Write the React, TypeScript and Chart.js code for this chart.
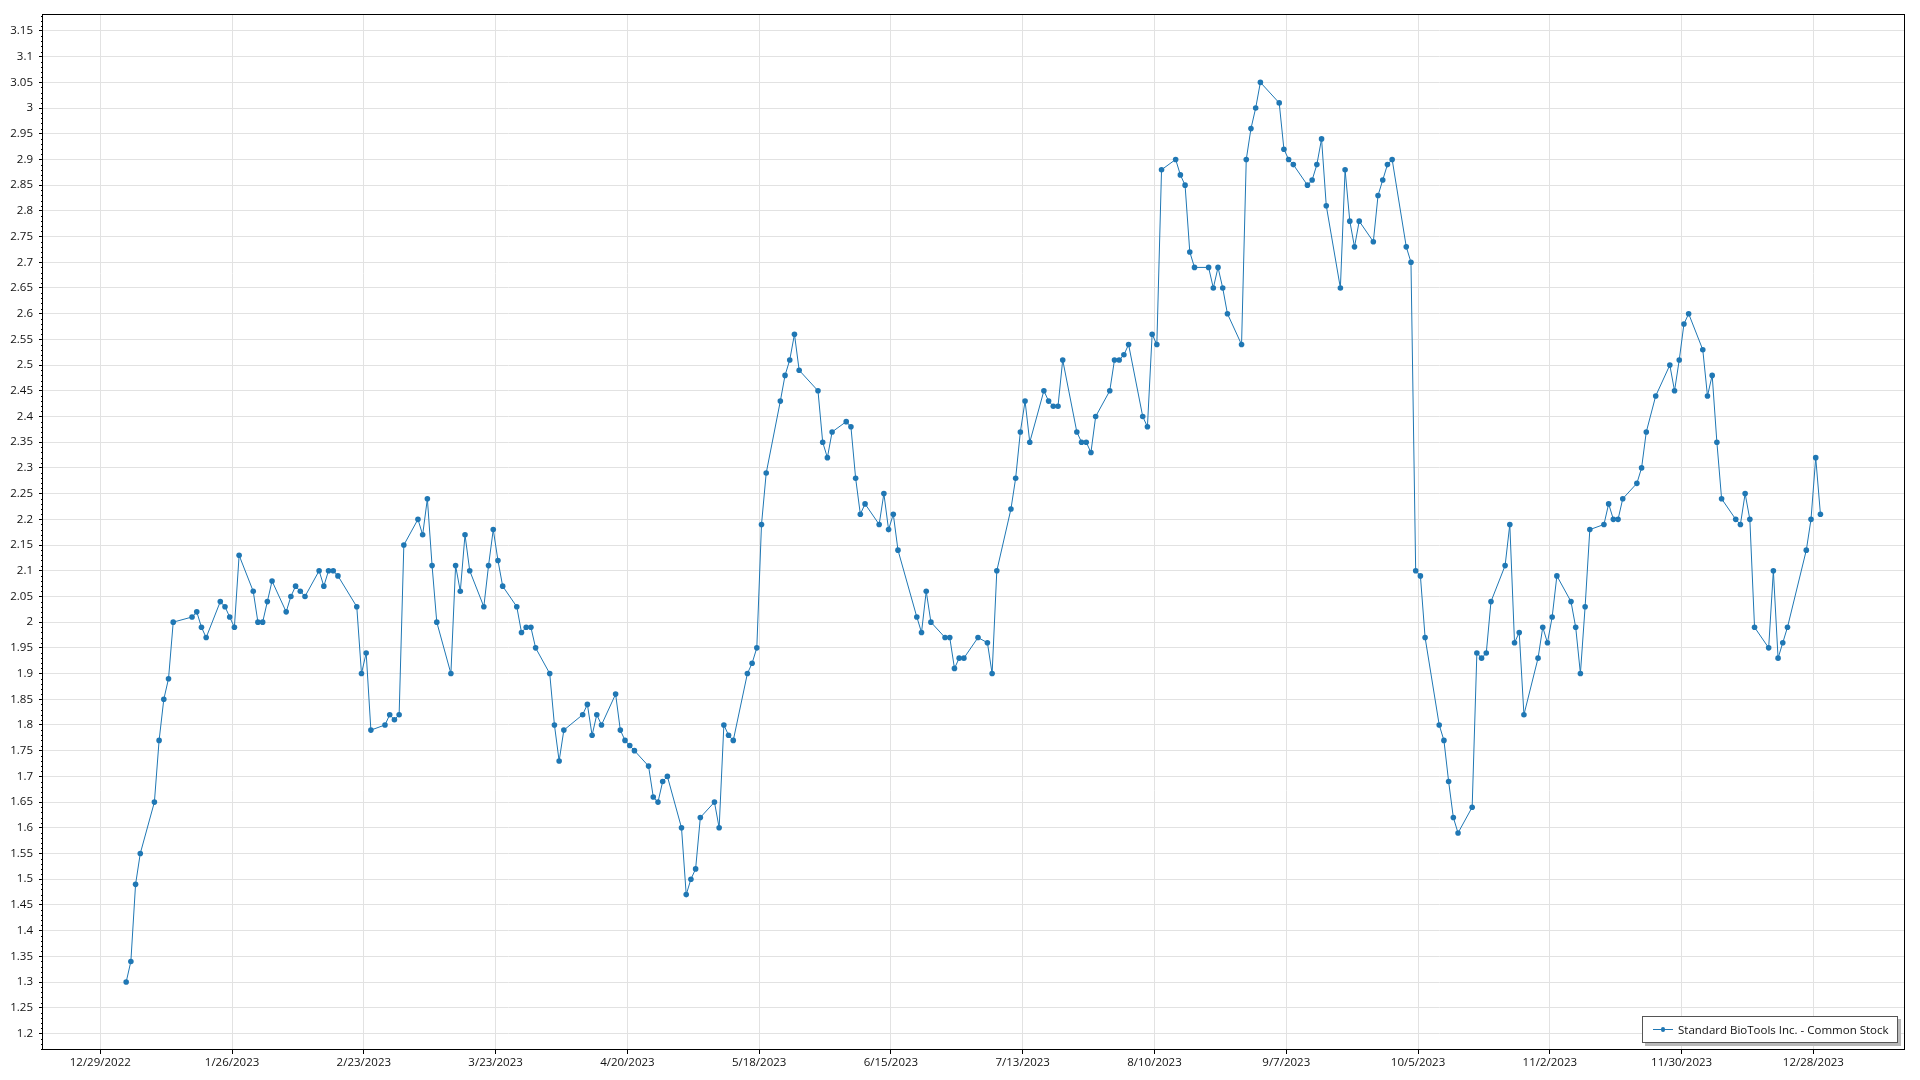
import React, { useEffect, useRef } from 'react';
import { Chart, registerables } from 'chart.js';

Chart.register(...registerables);

// ---------------- data ----------------
const seriesLabel = 'Standard BioTools Inc. - Common Stock';

const xTickLabels = [
  '12/29/2022', '1/26/2023', '2/23/2023', '3/23/2023', '4/20/2023', '5/18/2023', '6/15/2023',
  '7/13/2023', '8/10/2023', '9/7/2023', '10/5/2023', '11/2/2023', '11/30/2023', '12/28/2023',
];

const yTickValues = [
  1.2, 1.25, 1.3, 1.35, 1.4, 1.45, 1.5, 1.55, 1.6, 1.65, 1.7, 1.75, 1.8, 1.85, 1.9, 1.95,
  2.0, 2.05, 2.1, 2.15, 2.2, 2.25, 2.3, 2.35, 2.4, 2.45, 2.5, 2.55, 2.6, 2.65, 2.7, 2.75,
  2.8, 2.85, 2.9, 2.95, 3.0, 3.05, 3.1, 3.15,
];

// [day of month, close] for each month of 2023
const janCloses: [number, number][] = [[3,1.30],[4,1.34],[5,1.49],[6,1.55],[9,1.65],[10,1.77],[11,1.85],[12,1.89],[13,2.00],[17,2.01],[18,2.02],[19,1.99],[20,1.97],[23,2.04],[24,2.03],[25,2.01],[26,1.99],[27,2.13],[30,2.06],[31,2.00]];
const febCloses: [number, number][] = [[1,2.00],[2,2.04],[3,2.08],[6,2.02],[7,2.05],[8,2.07],[9,2.06],[10,2.05],[13,2.10],[14,2.07],[15,2.10],[16,2.10],[17,2.09],[21,2.03],[22,1.90],[23,1.94],[24,1.79],[27,1.80],[28,1.82]];
const marCloses: [number, number][] = [[1,1.81],[2,1.82],[3,2.15],[6,2.20],[7,2.17],[8,2.24],[9,2.11],[10,2.00],[13,1.90],[14,2.11],[15,2.06],[16,2.17],[17,2.10],[20,2.03],[21,2.11],[22,2.18],[23,2.12],[24,2.07],[27,2.03],[28,1.98],[29,1.99],[30,1.99],[31,1.95]];
const aprCloses: [number, number][] = [[3,1.90],[4,1.80],[5,1.73],[6,1.79],[10,1.82],[11,1.84],[12,1.78],[13,1.82],[14,1.80],[17,1.86],[18,1.79],[19,1.77],[20,1.76],[21,1.75],[24,1.72],[25,1.66],[26,1.65],[27,1.69],[28,1.70]];
const mayCloses: [number, number][] = [[1,1.60],[2,1.47],[3,1.50],[4,1.52],[5,1.62],[8,1.65],[9,1.60],[10,1.80],[11,1.78],[12,1.77],[15,1.90],[16,1.92],[17,1.95],[18,2.19],[19,2.29],[22,2.43],[23,2.48],[24,2.51],[25,2.56],[26,2.49],[30,2.45],[31,2.35]];
const junCloses: [number, number][] = [[1,2.32],[2,2.37],[5,2.39],[6,2.38],[7,2.28],[8,2.21],[9,2.23],[12,2.19],[13,2.25],[14,2.18],[15,2.21],[16,2.14],[20,2.01],[21,1.98],[22,2.06],[23,2.00],[26,1.97],[27,1.97],[28,1.91],[29,1.93],[30,1.93]];
const julCloses: [number, number][] = [[3,1.97],[5,1.96],[6,1.90],[7,2.10],[10,2.22],[11,2.28],[12,2.37],[13,2.43],[14,2.35],[17,2.45],[18,2.43],[19,2.42],[20,2.42],[21,2.51],[24,2.37],[25,2.35],[26,2.35],[27,2.33],[28,2.40],[31,2.45]];
const augCloses: [number, number][] = [[1,2.51],[2,2.51],[3,2.52],[4,2.54],[7,2.40],[8,2.38],[9,2.56],[10,2.54],[11,2.88],[14,2.90],[15,2.87],[16,2.85],[17,2.72],[18,2.69],[21,2.69],[22,2.65],[23,2.69],[24,2.65],[25,2.60],[28,2.54],[29,2.90],[30,2.96],[31,3.00]];
const sepCloses: [number, number][] = [[1,3.05],[5,3.01],[6,2.92],[7,2.90],[8,2.89],[11,2.85],[12,2.86],[13,2.89],[14,2.94],[15,2.81],[18,2.65],[19,2.88],[20,2.78],[21,2.73],[22,2.78],[25,2.74],[26,2.83],[27,2.86],[28,2.89],[29,2.90]];
const octCloses: [number, number][] = [[2,2.73],[3,2.70],[4,2.10],[5,2.09],[6,1.97],[9,1.80],[10,1.77],[11,1.69],[12,1.62],[13,1.59],[16,1.64],[17,1.94],[18,1.93],[19,1.94],[20,2.04],[23,2.11],[24,2.19],[25,1.96],[26,1.98],[27,1.82],[30,1.93],[31,1.99]];
const novCloses: [number, number][] = [[1,1.96],[2,2.01],[3,2.09],[6,2.04],[7,1.99],[8,1.90],[9,2.03],[10,2.18],[13,2.19],[14,2.23],[15,2.20],[16,2.20],[17,2.24],[20,2.27],[21,2.30],[22,2.37],[24,2.44],[27,2.50],[28,2.45],[29,2.51],[30,2.58]];
const decCloses: [number, number][] = [[1,2.60],[4,2.53],[5,2.44],[6,2.48],[7,2.35],[8,2.24],[11,2.20],[12,2.19],[13,2.25],[14,2.20],[15,1.99],[18,1.95],[19,2.10],[20,1.93],[21,1.96],[22,1.99],[26,2.14],[27,2.20],[28,2.32],[29,2.21]];

const monthlyCloses = [
  janCloses, febCloses, marCloses, aprCloses, mayCloses, junCloses,
  julCloses, augCloses, sepCloses, octCloses, novCloses, decCloses,
];

// ---------------- helpers ----------------
const DAY_MS = 86400000;
const ORIGIN = Date.UTC(2022, 11, 29);
const dayOf = (y: number, m: number, d: number) => (Date.UTC(y, m, d) - ORIGIN) / DAY_MS;

const xTickDays = xTickLabels.map((s) => {
  const [m, d, y] = s.split('/').map(Number);
  return dayOf(y, m - 1, d);
});

const points = monthlyCloses.flatMap((rows, m) =>
  rows.map(([d, v]) => ({ x: dayOf(2023, m, d) + 0.5, y: v }))
);

const FONT = "'Segoe UI', 'Open Sans', sans-serif";
const LINE_COLOR = '#1f77b4';

const framePlugin = {
  id: 'frameAndMinor',
  afterDraw(chart: any) {
    const { ctx, chartArea: a, scales } = chart;
    const ys = scales.y;
    ctx.save();
    ctx.strokeStyle = '#000';
    ctx.lineWidth = 1;
    ctx.beginPath();
    const lo = Math.ceil(ys.min * 100);
    const hi = Math.floor(ys.max * 100);
    for (let i = lo; i <= hi; i++) {
      if (i % 5 === 0) continue;
      const py = Math.round(ys.getPixelForValue(i / 100)) + 0.5;
      ctx.moveTo(Math.round(a.left) - 2, py);
      ctx.lineTo(Math.round(a.left), py);
    }
    ctx.stroke();
    const l = Math.round(a.left) - 0.5;
    const t = Math.round(a.top) - 0.5;
    const r = Math.round(a.right) - 0.5;
    const b = Math.round(a.bottom) + 0.5;
    ctx.strokeRect(l, t, r - l, b - t);
    ctx.restore();
  },
};

export default function App() {
  const canvasRef = useRef<HTMLCanvasElement | null>(null);

  useEffect(() => {
    document.body.style.margin = '0';
    document.body.style.background = '#fff';
    const canvas = canvasRef.current;
    if (!canvas) return;
    const chart = new Chart(canvas, {
      type: 'line',
      data: {
        datasets: [
          {
            label: seriesLabel,
            data: points,
            borderColor: LINE_COLOR,
            backgroundColor: LINE_COLOR,
            borderWidth: 1,
            pointRadius: 2.8,
            pointBorderWidth: 0,
            pointBackgroundColor: LINE_COLOR,
            tension: 0,
            fill: false,
          },
        ],
      },
      options: {
        animation: false,
        responsive: false,
        devicePixelRatio: 1,
        layout: { padding: { top: 15, right: 15, left: 0, bottom: 0 } },
        plugins: {
          legend: { display: false },
          tooltip: { enabled: false },
        },
        scales: {
          x: {
            type: 'linear',
            min: -12.17,
            max: 383.47,
            afterBuildTicks: (scale: any) => {
              scale.ticks = xTickDays.map((v) => ({ value: v }));
            },
            afterFit: (scale: any) => {
              scale.height = 31;
            },
            ticks: {
              autoSkip: false,
              maxRotation: 0,
              padding: 2,
              color: '#111',
              font: { family: FONT, size: 11.5 },
              callback: (value: any) => {
                const i = xTickDays.indexOf(Number(value));
                return i >= 0 ? xTickLabels[i] : '';
              },
            },
            grid: { color: '#e2e2e2', tickColor: '#000', tickLength: 5, lineWidth: 1 },
            border: { display: false },
          },
          y: {
            type: 'linear',
            min: 1.1697,
            max: 3.181,
            afterBuildTicks: (scale: any) => {
              scale.ticks = yTickValues.map((v) => ({ value: v }));
            },
            afterFit: (scale: any) => {
              scale.width = 43;
            },
            ticks: {
              autoSkip: false,
              padding: 6,
              color: '#111',
              font: { family: FONT, size: 11.5 },
              callback: (value: any) => String(Number(Number(value).toFixed(2))),
            },
            grid: { color: '#e2e2e2', tickColor: '#000', tickLength: 4, lineWidth: 1 },
            border: { display: false },
          },
        },
      } as any,
      plugins: [framePlugin],
    });
    return () => chart.destroy();
  }, []);

  return (
    <div style={{ position: 'relative', width: 1920, height: 1080, background: '#fff', overflow: 'hidden' }}>
      <canvas ref={canvasRef} width={1920} height={1080} style={{ display: 'block', width: 1920, height: 1080 }} />
      <div
        style={{
          position: 'absolute',
          left: 1642,
          top: 1016,
          width: 256,
          height: 27,
          boxSizing: 'border-box',
          border: '1px solid #555',
          background: '#fff',
          boxShadow: '3px 3px 0 #b8b8b8',
          display: 'flex',
          alignItems: 'center',
          fontFamily: FONT,
          fontSize: 11.5,
          color: '#111',
          whiteSpace: 'nowrap',
        }}
      >
        <span style={{ position: 'relative', display: 'inline-block', width: 20, height: 6, marginLeft: 10, marginRight: 5 }}>
          <span style={{ position: 'absolute', left: 0, right: 0, top: 2.5, height: 1, background: LINE_COLOR }} />
          <span
            style={{
              position: 'absolute',
              left: 7.6,
              top: 0.6,
              width: 4.8,
              height: 4.8,
              borderRadius: '50%',
              background: LINE_COLOR,
            }}
          />
        </span>
        <span>{seriesLabel}</span>
      </div>
    </div>
  );
}
